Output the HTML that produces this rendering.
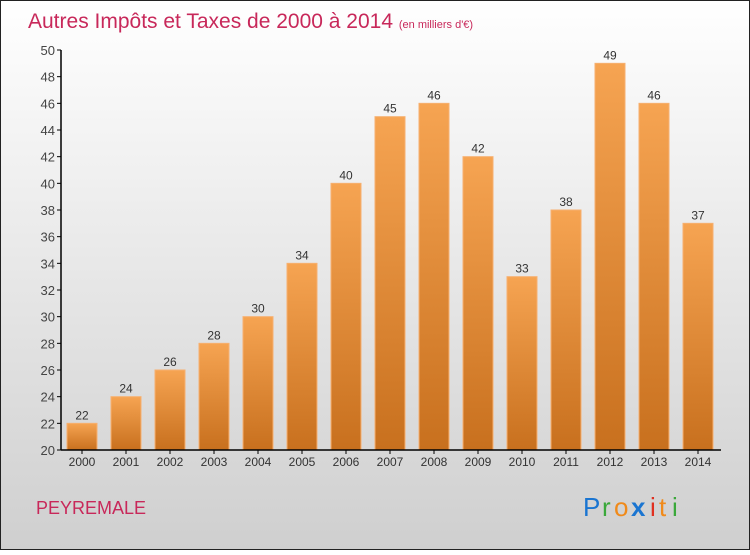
<!DOCTYPE html>
<html><head><meta charset="utf-8"><style>
body{margin:0;width:750px;height:550px;overflow:hidden;font-family:"Liberation Sans","DejaVu Sans",sans-serif}
</style></head><body>
<svg width="750" height="550" xmlns="http://www.w3.org/2000/svg">
<defs>
<linearGradient id="bg" x1="0" y1="0" x2="0" y2="1"><stop offset="0" stop-color="#ffffff"/><stop offset="1" stop-color="#cfcfcf"/></linearGradient>
<linearGradient id="bar" x1="0" y1="0" x2="0" y2="1"><stop offset="0" stop-color="#f6a452"/><stop offset="1" stop-color="#c8701e"/></linearGradient>
</defs>
<rect x="0.5" y="0.5" width="749" height="549" fill="url(#bg)" stroke="#222"/>
<text x="28" y="28" font-size="21" fill="#c8285a">Autres Impôts et Taxes de 2000 à 2014 <tspan font-size="11">(en milliers d'€)</tspan></text>
<g id="plot"></g>
<text x="36" y="514" font-size="18" fill="#c8285a">PEYREMALE</text>
<g font-size="26" font-family="'Liberation Sans',sans-serif">
<text x="583" y="516" fill="#1a75d1">P</text><text x="602" y="516" fill="#3aa83a">r</text><text x="614" y="516" fill="#f08a1a">o</text><text x="631" y="516" fill="#1a75d1" font-weight="bold">x</text><text x="650" y="516" fill="#e03020">i</text><text x="659" y="516" fill="#f08a1a">t</text><text x="672" y="516" fill="#3aa83a">i</text>
</g>
</svg>
<script>
const years=["2000","2001","2002","2003","2004","2005","2006","2007","2008","2009","2010","2011","2012","2013","2014"];
const values=[22,24,26,28,30,34,40,45,46,42,33,38,49,46,37];
const yTicks=[20,22,24,26,28,30,32,34,36,38,40,42,44,46,48,50];
const NS="http://www.w3.org/2000/svg";
const g=document.getElementById('plot');
const yMin=20,yMax=50,plotTop=50,plotBot=450;
const y=v=>plotBot-(v-yMin)/(yMax-yMin)*(plotBot-plotTop);
const x=i=>82+i*44;
function mk(t,a,p){const e=document.createElementNS(NS,t);for(const k in a)e.setAttribute(k,a[k]);(p||g).appendChild(e);return e;}
yTicks.forEach(v=>{
 const l=mk('line',{x1:57,x2:61,y1:y(v),y2:y(v),stroke:'#000'});
 
 
 const t=mk('text',{x:55,y:y(v)+5,'text-anchor':'end','font-size':13,fill:'#444'});t.textContent=v;
 
 
});
values.forEach((v,i)=>{
 const r=mk('rect',{x:x(i)-15,y:y(v),width:30,height:plotBot-y(v),fill:'url(#bar)',stroke:'#f7b070','stroke-width':1});
 
 
 const t=mk('text',{x:x(i),y:y(v)-4,'text-anchor':'middle','font-size':12,fill:'#333'});t.textContent=v;
 
 
 const k=mk('line',{x1:x(i),x2:x(i),y1:plotBot,y2:plotBot+4,stroke:'#000'});
 
 
 const yl=mk('text',{x:x(i),y:plotBot+16,'text-anchor':'middle','font-size':12,fill:'#333'});yl.textContent=years[i];
 
 
});
const ya=mk('line',{x1:61,x2:61,y1:plotTop,y2:plotBot,stroke:'#000','stroke-width':1.5});


const xa=mk('line',{x1:61,x2:721,y1:plotBot,y2:plotBot,stroke:'#000','stroke-width':1.5});


</script>
</body></html>
